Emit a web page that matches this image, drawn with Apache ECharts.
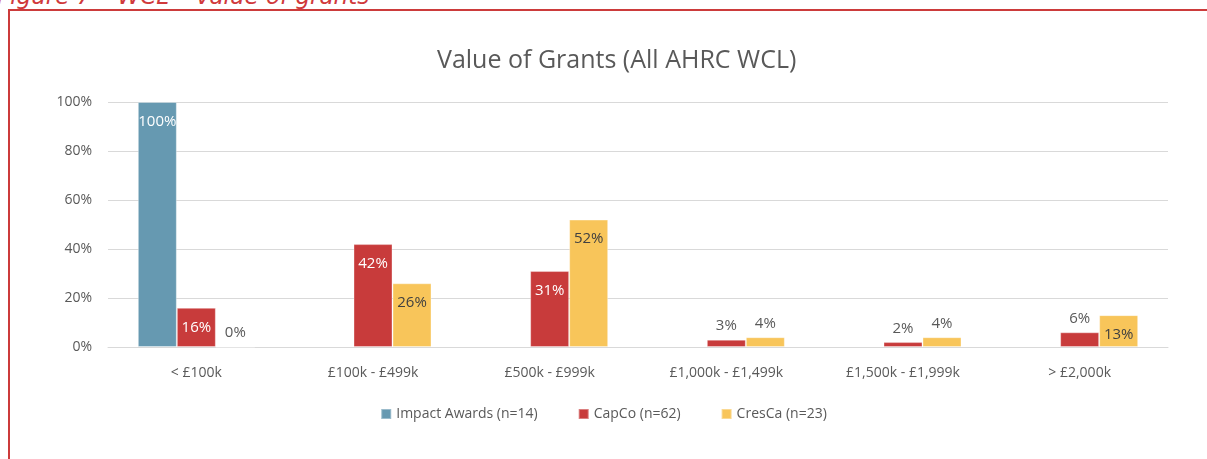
<!DOCTYPE html>
<html>
<head>
<meta charset="utf-8">
<script src="https://cdn.jsdelivr.net/npm/echarts@6/dist/echarts.min.js"></script>
<style>
  html, body { margin: 0; padding: 0; background: #fff; overflow: hidden; }
  .caption {
    position: absolute; left: -3px; top: -17px;
    font-family: 'DejaVu Sans', sans-serif; font-style: italic;
    font-size: 23px; color: #d0393b; white-space: nowrap;
  }
  .frame {
    position: absolute; left: 8px; top: 9px; right: -10px; bottom: -10px;
    border-top: 2px solid #cc3b3b; border-left: 2px solid #cc3b3b;
  }
  #chart { position: absolute; left: 0; top: 0; width: 1207px; height: 459px; }
</style>
</head>
<body>
<div class="caption">Figure 7 – WCL – Value of grants</div>
<div class="frame"></div>
<div id="chart"></div>
<script>
var categories = ['< £100k', '£100k - £499k', '£500k - £999k', '£1,000k - £1,499k', '£1,500k - £1,999k', '> £2,000k']
var impactAwards = [100, null, null, null, null, null]
var capCo = [16, 42, 31, 3, 2, 6]
var cresCa = [0, 26, 52, 4, 4, 13]
var yTicks = [0, 20, 40, 60, 80, 100]

var font = "'Open Sans', 'Liberation Sans', sans-serif"
var grey = '#595959'

// labels sit inside the bar when it is tall enough, above it otherwise
function lbl (v, inside) {
  if (v >= 10) {
    return { value: v, label: { position: 'insideTop', distance: 12, color: inside } }
  }
  return { value: v, label: { position: 'top', distance: 6, color: grey } }
}

function series (name, data, color, inside) {
  return {
    name: name,
    type: 'bar',
    barWidth: 39,
    barGap: 0,
    itemStyle: { color: color, borderColor: 'rgba(255,255,255,0.35)', borderWidth: 1 },
    label: { show: true, formatter: '{c}%', fontFamily: font, fontSize: 15 },
    data: data.map(function (v) { return v === null ? null : lbl(v, inside) })
  }
}

var oChart = echarts.init(document.getElementById('chart'))
oChart.setOption({
  animation: false,
  title: {
    text: 'Value of Grants (All AHRC WCL)',
    left: 432,
    top: 43,
    textStyle: { fontFamily: font, fontSize: 25, fontWeight: 'normal', color: grey }
  },
  legend: {
    bottom: 33,
    left: 'center',
    itemWidth: 10,
    itemHeight: 10,
    itemGap: 40,
    icon: 'rect',
    textStyle: { fontFamily: font, fontSize: 14, color: grey }
  },
  grid: { left: 108, right: 39, top: 102, bottom: 112 },
  xAxis: {
    type: 'category',
    data: categories,
    axisTick: { show: false },
    axisLine: { lineStyle: { color: '#d9d9d9' } },
    axisLabel: { fontFamily: font, fontSize: 14, color: grey, margin: 19 }
  },
  yAxis: {
    type: 'value',
    min: yTicks[0],
    max: yTicks[yTicks.length - 1],
    interval: 20,
    axisLabel: { formatter: '{value}%', fontFamily: font, fontSize: 14, color: grey, margin: 16 },
    splitLine: { lineStyle: { color: '#d9d9d9' } }
  },
  series: [
    series('Impact Awards (n=14)', impactAwards, '#6699b1', '#fff'),
    series('CapCo (n=62)', capCo, '#c83b3b', '#fff'),
    series('CresCa (n=23)', cresCa, '#f8c55a', '#404040')
  ]
})
</script>
</body>
</html>
